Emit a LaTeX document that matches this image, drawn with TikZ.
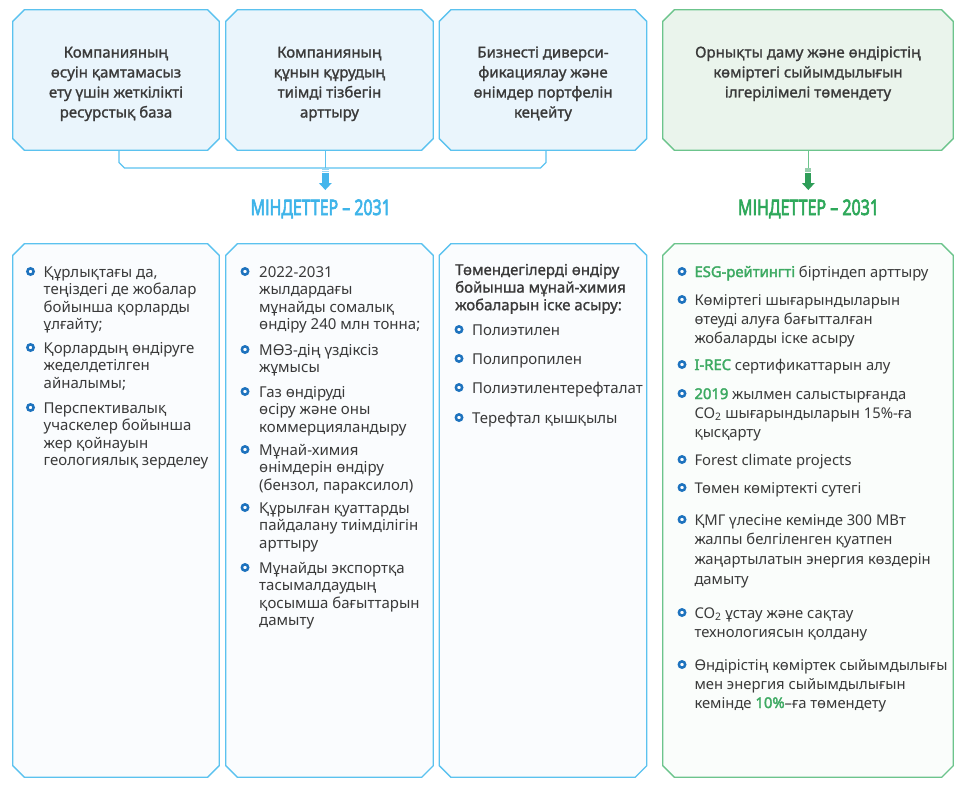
\documentclass[tikz,border=0pt]{standalone}
\usepackage{fontspec}
\usepackage{graphicx}
\setmainfont{Noto Sans}[BoldFont={Noto Sans}, BoldFeatures={FakeBold=2.4}]
\newfontfamily\medfont{Noto Sans}[FakeBold=1.3]
\newfontfamily\headfont{Noto Sans}[FakeBold=3.4]
\definecolor{bl}{HTML}{5BC2EF}
\definecolor{blfill}{HTML}{EAF5FC}
\definecolor{blfilltwo}{HTML}{FAFCFE}
\definecolor{gr}{HTML}{6CC48C}
\definecolor{grfill}{HTML}{EAF4EC}
\definecolor{grfilltwo}{HTML}{FAFDFB}
\definecolor{headbl}{HTML}{3EB4E9}
\definecolor{headgr}{HTML}{2EA85A}
\definecolor{txt}{HTML}{3A3A3A}
\definecolor{bulc}{HTML}{1E73BE}
\definecolor{hl}{HTML}{3DAA62}
\definecolor{arrbl}{HTML}{45B6EC}
\definecolor{arrgr}{HTML}{2E9D58}
\newcommand\hlt[1]{{\bfseries\color{hl}#1}}
\newcommand\chamf[2]{\draw[#2] ([xshift=11.5pt]#1.north west) -- ([xshift=-11.5pt]#1.north east)
  -- ([yshift=-11.5pt]#1.north east) -- ([yshift=11.5pt]#1.south east)
  -- ([xshift=-11.5pt]#1.south east) -- ([xshift=11.5pt]#1.south west)
  -- ([yshift=11.5pt]#1.south west) -- ([yshift=-11.5pt]#1.north west) -- cycle;}
\begin{document}
\begin{tikzpicture}[x=1pt,y=-1pt,
  area/.style={rectangle, inner sep=0pt, draw=none},
  tframe/.style={draw=bl, fill=blfill, line width=1.3pt},
  bframe/.style={draw=bl, fill=blfilltwo, line width=1.3pt},
  tgframe/.style={draw=gr, fill=grfill, line width=1.3pt},
  bgframe/.style={draw=gr, fill=grfilltwo, line width=1.3pt},
  toptext/.style={anchor=base, align=center, inner sep=0pt, text=txt,
    font=\medfont\fontsize{15}{20}\selectfont},
  item/.style={anchor=base west, align=left, inner sep=0pt, text=txt,
    font=\fontsize{15}{17.6}\selectfont},
  gitem/.style={item, font=\fontsize{14.8}{19}\selectfont},
  bul/.style={circle, draw=bulc, line width=2.5pt, fill=white,
    minimum size=6.3pt, inner sep=0pt},
  conn/.style={draw=bl, line width=1.3pt},
  gconn/.style={draw=gr, line width=1.3pt},
  head/.style={anchor=base, inner sep=0pt, font=\headfont}
]
\useasboundingbox (0,0) rectangle (965,789);

% top boxes
\node[area, minimum width=206pt, minimum height=140pt] (T1) at (116,80) {};
\node[area, minimum width=207pt, minimum height=140pt] (T2) at (329.5,80) {};
\node[area, minimum width=207pt, minimum height=140pt] (T3) at (543,80) {};
\node[area, minimum width=290pt, minimum height=140pt] (T4) at (808,80) {};
\chamf{T1}{tframe}
\chamf{T2}{tframe}
\chamf{T3}{tframe}
\chamf{T4}{tgframe}

\node[toptext] (T1t) at (116,117.5) {Компанияның\\өсуін қамтамасыз\\ету үшін жеткілікті\\ресурстық база};
\node[toptext] (T2t) at (329.5,117.5) {Компанияның\\құнын құрудың\\тиімді тізбегін\\арттыру};
\node[toptext] (T3t) at (543,117.5) {Бизнесті диверси-\\фикациялау және\\өнімдер портфелін\\кеңейту};
\node[toptext] (T4t) at (808,97.5) {Орнықты даму және өндірістің\\көміртегі сыйымдылығын\\ілгерілімелі төмендету};

% bracket connector
\coordinate (k1) at (119,150);
\coordinate (k3) at (546,150);
\coordinate (k2) at (325.3,150);
\coordinate (kj) at (325.3,168);
\draw[conn] (k1) -- (119,162.5) -- (124.5,168) -- (540.5,168) -- (546,162.5) -- (k3);
\draw[conn] (k2) -- (kj);

% blue arrow
\fill[arrbl!55] (322,168.6) rectangle (328.6,169.8);
\fill[arrbl!55] (322,170.6) rectangle (328.6,171.8);
\fill[arrbl] (322,172.6) rectangle (328.6,183);
\fill[arrbl] (318.8,183) -- (331.8,183) -- (325.3,190) -- cycle;

% green connector and arrow
\coordinate (g1) at (808.3,150);
\coordinate (gj) at (808.3,167.5);
\draw[gconn] (g1) -- (gj);
\fill[arrgr!50] (805.2,168.3) rectangle (811.4,169.5);
\fill[arrgr!50] (805.2,170.3) rectangle (811.4,171.5);
\fill[arrgr] (805.2,172.5) rectangle (811.4,183);
\fill[arrgr] (801.8,183) -- (814.8,183) -- (808.3,190) -- cycle;

% headings
\node[head, text=headbl] (H1) at (320.7,215) {\resizebox{140pt}{15.5pt}{МІНДЕТТЕР – 2031}};
\node[head, text=headgr] (H2) at (808.5,215) {\resizebox{141pt}{15.5pt}{МІНДЕТТЕР – 2031}};

% bottom boxes
\node[area, minimum width=206pt, minimum height=533pt] (B1) at (116,510.5) {};
\node[area, minimum width=207pt, minimum height=533pt] (B2) at (329.5,510.5) {};
\node[area, minimum width=207pt, minimum height=533pt] (B3) at (543,510.5) {};
\node[area, minimum width=290pt, minimum height=533pt] (B4) at (808,510.5) {};
\chamf{B1}{bframe}
\chamf{B2}{bframe}
\chamf{B3}{bframe}
\chamf{B4}{bgframe}

% box 1 items
\node[bul] (b1a) at (30.5,271.5) {};
\node[item] (i1a) at (43.5,329.8) {Құрлықтағы да,\\теңіздегі де жобалар\\бойынша қорларды\\ұлғайту;};
\node[bul] (b1b) at (30.5,347.5) {};
\node[item] (i1b) at (43.5,388.2) {Қорлардың өндіруге\\жеделдетілген\\айналымы;};
\node[bul] (b1c) at (30.5,407.5) {};
\node[item] (i1c) at (43.5,465.8) {Перспективалық\\учаскелер бойынша\\жер қойнауын\\геологиялық зерделеу};

% box 2 items
\node[bul] (b2a) at (245,271.5) {};
\node[item] (i2a) at (259,329.8) {2022-2031\\жылдардағы\\мұнайды сомалық\\өндіру 240 млн тонна;};
\node[bul] (b2b) at (245,349.5) {};
\node[item] (i2b) at (259,372.6) {МӨЗ-дің үздіксіз\\жұмысы};
\node[bul] (b2c) at (245,391.5) {};
\node[item] (i2c) at (259,432.2) {Газ өндіруді\\өсіру және оны\\коммерцияландыру};
\node[bul] (b2d) at (245,449.5) {};
\node[item] (i2d) at (259,490.2) {Мұнай-химия\\өнімдерін өндіру\\(бензол, параксилол)};
\node[bul] (b2e) at (245,507.5) {};
\node[item] (i2e) at (259,548.2) {Құрылған қуаттарды\\пайдалану тиімділігін\\арттыру};
\node[bul] (b2f) at (245,567.5) {};
\node[item] (i2f) at (259,625.8) {Мұнайды экспортқа\\тасымалдаудың\\қосымша бағыттарын\\дамыту};

% box 3
\node[item, font=\medfont\fontsize{15}{17.6}\selectfont] (i3h) at (455,310.2) {Төмендегілерді өндіру\\бойынша мұнай-химия\\жобаларын іске асыру:};
\node[bul] (b3a) at (459,329.5) {};
\node[item] (i3a) at (472,335) {Полиэтилен};
\node[bul] (b3b) at (459,358.5) {};
\node[item] (i3b) at (472,364) {Полипропилен};
\node[bul] (b3c) at (459,387.5) {};
\node[item] (i3c) at (472,393) {Полиэтилентерефталат};
\node[bul] (b3d) at (459,417.5) {};
\node[item] (i3d) at (472,423) {Терефтал қышқылы};

% box 4
\node[bul] (b4a) at (682,271.5) {};
\node[gitem] (i4a) at (694.3,277) {\hlt{ESG-рейтингті} біртіндеп арттыру};
\node[bul] (b4b) at (682,299.5) {};
\node[gitem] (i4b) at (694.3,343) {Көміртегі шығарындыларын\\өтеуді алуға бағытталған\\жобаларды іске асыру};
\node[bul] (b4c) at (682,364.5) {};
\node[gitem] (i4c) at (694.3,370) {\hlt{I-REC} сертификаттарын алу};
\node[bul] (b4d) at (682,393.5) {};
\node[gitem] (i4d) at (694.3,437) {\hlt{2019} жылмен салыстырғанда\\CO\textsubscript{2} шығарындыларын 15\%-ға\\қысқарту};
\node[bul] (b4e) at (682,459.5) {};
\node[gitem] (i4e) at (694.3,465) {Forest climate projects};
\node[bul] (b4f) at (682,487.5) {};
\node[gitem] (i4f) at (694.3,493) {Төмен көміртекті сутегі};
\node[bul] (b4g) at (682,519.5) {};
\node[gitem, font=\fontsize{14.8}{19.8}\selectfont] (i4g) at (694.3,584.4) {ҚМГ үлесіне кемінде 300 МВт\\жалпы белгіленген қуатпен\\жаңартылатын энергия көздерін\\дамыту};
\node[bul] (b4h) at (682,612.5) {};
\node[gitem] (i4h) at (694.3,637) {CO\textsubscript{2} ұстау және сақтау\\технологиясын қолдану};
\node[bul] (b4i) at (682,664.5) {};
\node[gitem] (i4i) at (694.3,708) {Өндірістің көміртек сыйымдылығы\\мен энергия сыйымдылығын\\кемінде \hlt{10\%}–ға төмендету};
\end{tikzpicture}
\end{document}
